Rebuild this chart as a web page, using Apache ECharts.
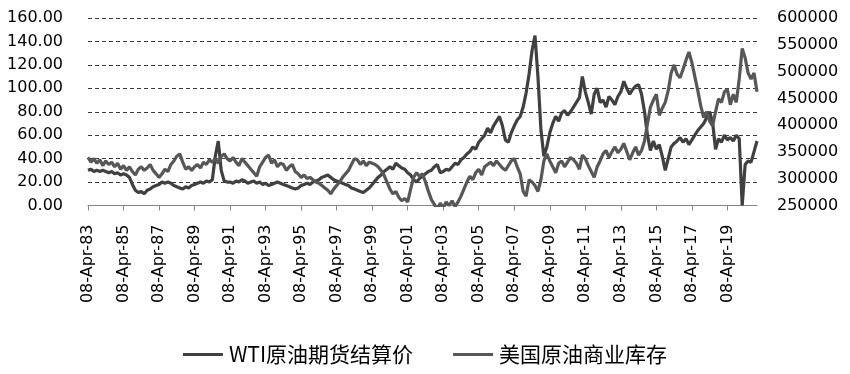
<!DOCTYPE html>
<html><head><meta charset="utf-8">
<script src="https://cdn.jsdelivr.net/npm/echarts@6/dist/echarts.min.js"></script>
<style>html,body{margin:0;padding:0;background:#fff}#c{width:850px;height:374px}</style>
</head><body><div id="c"></div>
<script>
const seriesNames = ['WTI原油期货结算价', '美国原油商业库存'];
const monthNames = ['Jan','Feb','Mar','Apr','May','Jun','Jul','Aug','Sep','Oct','Nov','Dec'];
// WTI settlement price (USD/bbl), one point every two months from Apr-1983
const wti = [
  30, 31, 29, 30, 29, 30, 29, 28, 29, 27, 28, 26,
  27, 26, 24, 18, 13, 11, 12, 10, 13, 14, 16, 17,
  18, 20, 19, 20, 19, 17, 16, 15, 14, 16, 15, 17,
  18, 19, 20, 19, 21, 20, 22, 42, 55, 30, 21, 20,
  20, 19, 21, 20, 22, 21, 19, 20, 21, 19, 20, 18,
  19, 17, 18, 19, 20, 19, 18, 17, 16, 15, 14, 15,
  17, 18, 19, 18, 20, 21, 22, 24, 25, 26, 24, 22,
  21, 20, 19, 18, 17, 15, 14, 13, 12, 11, 13, 15,
  18, 21, 24, 26, 29, 31, 33, 31, 36, 34, 32, 31,
  28, 26, 22, 20, 23, 25, 27, 29, 30, 33, 35, 28,
  29, 31, 30, 33, 36, 35, 39, 41, 44, 46, 50, 48,
  54, 57, 60, 66, 62, 68, 72, 76, 68, 56, 54, 62,
  68, 73, 76, 84, 96, 112, 132, 145, 110, 65, 42, 50,
  62, 70, 76, 72, 79, 81, 77, 80, 84, 88, 92, 110,
  97, 88, 78, 95, 100, 88, 90, 84, 93, 90, 86, 93,
  97, 106, 100, 95, 99, 102, 103, 95, 80, 60, 47, 55,
  48, 52, 42, 30, 40, 50, 53, 55, 58, 54, 57, 52,
  56, 60, 64, 67, 70, 75, 80, 71, 48, 57, 54, 60,
  56, 58, 55, 60, 57, 0, 35, 38, 37, 46, 55
];
// US commercial crude inventory (thousand barrels), same dates
const inventory = [
  339700, 330900, 337500, 328800, 335300, 324400, 333100, 326600, 330900, 322200, 328800, 317800,
  324400, 315600, 322200, 313400, 306900, 317800, 322200, 315600, 320000, 326600, 315600, 309100,
  302500, 309100, 317800, 313400, 326600, 333100, 341900, 346300, 330900, 317800, 322200, 315600,
  322200, 326600, 320000, 330900, 326600, 335300, 330900, 337500, 328800, 341900, 346300, 337500,
  333100, 339700, 330900, 324400, 337500, 330900, 324400, 317800, 311300, 304700, 322200, 330900,
  339700, 344100, 328800, 335300, 322200, 328800, 326600, 315600, 322200, 326600, 313400, 309100,
  302500, 306900, 300300, 302500, 298100, 293800, 291600, 287200, 282800, 278400, 271900, 280600,
  287200, 293800, 302500, 309100, 315600, 326600, 337500, 335300, 326600, 333100, 324400, 330900,
  328800, 326600, 322200, 315600, 306900, 293800, 280600, 271900, 276300, 265300, 258800, 263100,
  256600, 280600, 302500, 311300, 304700, 309100, 293800, 276300, 260900, 252200, 243400, 254400,
  245600, 256600, 250000, 258800, 247800, 256600, 267500, 280600, 293800, 304700, 298100, 311300,
  317800, 306900, 322200, 326600, 330900, 324400, 333100, 326600, 320000, 315600, 324400, 333100,
  337500, 322200, 309100, 276300, 267500, 298100, 293800, 287200, 276300, 298100, 333100, 346300,
  333100, 322200, 311300, 328800, 333100, 322200, 330900, 339700, 335300, 328800, 317800, 344100,
  337500, 324400, 313400, 302500, 322200, 333100, 346300, 352800, 339700, 350600, 359400, 348400,
  355000, 365900, 350600, 335300, 348400, 359400, 344100, 352800, 370300, 403100, 433800, 446900,
  457800, 418400, 431600, 442500, 464400, 497200, 512500, 495000, 488400, 503800, 521300, 536600,
  516900, 490600, 464400, 435900, 414100, 425000, 407500, 398800, 425000, 449100, 442500, 462200,
  466600, 438100, 457800, 442500, 486300, 543100, 525600, 497200, 486300, 497200, 462200
];
const categories = wti.map(function (_, i) {
  const m = 3 + 2 * i;
  const y = 1983 + Math.floor(m / 12);
  return '08-' + monthNames[m % 12] + '-' + String(y % 100).padStart(2, '0');
});

const chart = echarts.init(document.getElementById('c'), null, { renderer: 'canvas' });
const axisFont = { fontFamily: 'DejaVu Sans', fontSize: 16, color: '#000' };
chart.setOption({
  animation: false,
  backgroundColor: '#fff',
  grid: { left: 88, right: 93, top: 18, bottom: 168.5, containLabel: false },
  legend: {
    data: seriesNames,
    bottom: 4,
    left: 'center',
    icon: 'rect',
    itemWidth: 40,
    itemHeight: 3,
    itemGap: 40,
    textStyle: { fontFamily: 'Noto Sans CJK SC', fontSize: 21, color: '#000', padding: [0, 0, 0, 1] }
  },
  xAxis: {
    type: 'category',
    data: categories,
    boundaryGap: false,
    axisLine: { lineStyle: { color: '#868686', width: 1 } },
    axisTick: { interval: 11, length: 5, lineStyle: { color: '#868686' } },
    axisLabel: Object.assign({ interval: 11, rotate: 90, margin: 19 }, axisFont),
    splitLine: { show: false }
  },
  yAxis: [
    {
      type: 'value', min: 0, max: 160, interval: 20,
      axisLine: { show: false }, axisTick: { show: false },
      axisLabel: Object.assign({ margin: 25, formatter: function (v) { return v.toFixed(2); } }, axisFont),
      splitLine: { show: true, lineStyle: { color: '#3a3a3a', width: 1, type: [4, 3] } }
    },
    {
      type: 'value', min: 250000, max: 600000, interval: 50000,
      axisLine: { show: false }, axisTick: { show: false },
      axisLabel: Object.assign({ margin: 20, formatter: function (v) { return String(v); } }, axisFont),
      splitLine: { show: false }
    }
  ],
  series: [
    {
      name: seriesNames[0], type: 'line', yAxisIndex: 0, data: wti,
      symbol: 'none', showSymbol: false, clip: true,
      itemStyle: { color: '#404040' },
      lineStyle: { color: '#404040', width: 3.2 }
    },
    {
      name: seriesNames[1], type: 'line', yAxisIndex: 1, data: inventory,
      symbol: 'none', showSymbol: false, clip: true,
      itemStyle: { color: '#575757' },
      lineStyle: { color: '#575757', width: 3.2 }
    }
  ]
});
</script></body></html>
